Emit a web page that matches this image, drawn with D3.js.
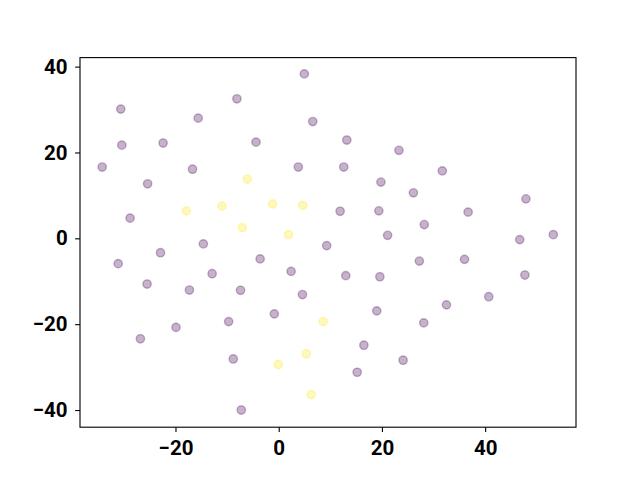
<!DOCTYPE html>
<html>
<head>
<meta charset="utf-8">
<script src="https://cdn.jsdelivr.net/npm/d3@7"></script>
<style>
  html, body { margin: 0; padding: 0; background: #fff; }
  .tick text { font-family: Roboto, "Liberation Sans", sans-serif; font-weight: bold; font-size: 20.5px; fill: #000; }
</style>
</head>
<body>
<div id="chart"></div>
<script>
// purple cluster (label 0)
const purpleX = [4.96, -8.1, -30.6, -15.6, 6.6, -30.4, -22.4, -4.4, -34.2, -16.7, 3.8, -25.4, -28.8, -14.6, 9.3,
  13.2, 23.3, 12.6, 31.7, 19.8, 26.1, 11.9, 19.4, 36.7, 47.9, 28.2, 21.1, 46.7, 53.2,
  -22.9, -31.1, -3.6, -12.9, 2.4, -25.5, -17.3, -7.4, 4.6, -0.85, -9.7, -19.9, -26.8, -8.8, -7.25,
  27.25, 36.0, 13.0, 19.6, 47.7, 40.7, 32.5, 19.0, 28.1, 16.5, 24.1, 15.2];
const purpleY = [38.3, 32.5, 30.1, 28.0, 27.2, 21.7, 22.2, 22.4, 16.6, 16.1, 16.6, 12.7, 4.7, -1.3, -1.7,
  22.9, 20.5, 16.6, 15.7, 13.1, 10.6, 6.3, 6.4, 6.1, 9.2, 3.2, 0.7, -0.3, 0.85,
  -3.35, -5.9, -4.8, -8.25, -7.7, -10.65, -12.05, -12.1, -13.1, -17.6, -19.4, -20.75, -23.4, -28.1, -40.0,
  -5.3, -4.9, -8.7, -8.95, -8.55, -13.6, -15.5, -16.9, -19.7, -24.9, -28.4, -31.2];

// yellow cluster (label 1)
const yellowX = [-6.1, -17.9, -11.0, -1.2, 4.65, -7.05, 1.9, 8.6, 5.35, -0.1, 6.3];
const yellowY = [13.8, 6.4, 7.5, 8.0, 7.7, 2.5, 0.85, -19.4, -26.9, -29.4, -36.4];

const xTicks = [-20, 0, 20, 40];
const yTicks = [-40, -20, 0, 20, 40];
const xDomain = [-38.5, 57.6];
const yDomain = [-44.0, 42.1];

const width = 640, height = 480;
const margin = { top: 57.6, right: 64, bottom: 52.8, left: 80 };

const svg = d3.select("#chart").append("svg")
  .attr("width", width)
  .attr("height", height);

svg.append("rect").attr("width", width).attr("height", height).attr("fill", "#fff");

const x = d3.scaleLinear().domain(xDomain).range([margin.left, width - margin.right]);
const y = d3.scaleLinear().domain(yDomain).range([height - margin.bottom, margin.top]);

const points = [
  ...purpleX.map((v, i) => ({ x: v, y: purpleY[i], c: "#440154" })),
  ...yellowX.map((v, i) => ({ x: v, y: yellowY[i], c: "#fde725" }))
];

svg.append("g").selectAll("circle")
  .data(points)
  .enter()
  .append("circle")
  .attr("cx", d => x(d.x))
  .attr("cy", d => y(d.y))
  .attr("r", 4.17)
  .attr("fill", d => d.c)
  .attr("fill-opacity", 0.3)
  .attr("stroke", d => d.c)
  .attr("stroke-opacity", 0.3)
  .attr("stroke-width", 1.39);

const fmt = d => d < 0 ? "\u2212" + Math.abs(d) : d;

// axes
const xAxis = svg.append("g")
  .attr("transform", `translate(0,${height - margin.bottom})`)
  .call(d3.axisBottom(x).tickValues(xTicks).tickSize(4.86).tickPadding(8).tickFormat(fmt));
const yAxis = svg.append("g")
  .attr("transform", `translate(${margin.left},0)`)
  .call(d3.axisLeft(y).tickValues(yTicks).tickSize(4.86).tickPadding(7.5).tickFormat(fmt));

[xAxis, yAxis].forEach(a => {
  a.select(".domain").remove();
  a.selectAll(".tick line").attr("stroke", "#000").attr("stroke-width", 1.11);
});

// frame
svg.append("rect")
  .attr("x", margin.left)
  .attr("y", margin.top)
  .attr("width", width - margin.left - margin.right)
  .attr("height", height - margin.top - margin.bottom)
  .attr("fill", "none")
  .attr("stroke", "#000")
  .attr("stroke-width", 1.11);
</script>
</body>
</html>
